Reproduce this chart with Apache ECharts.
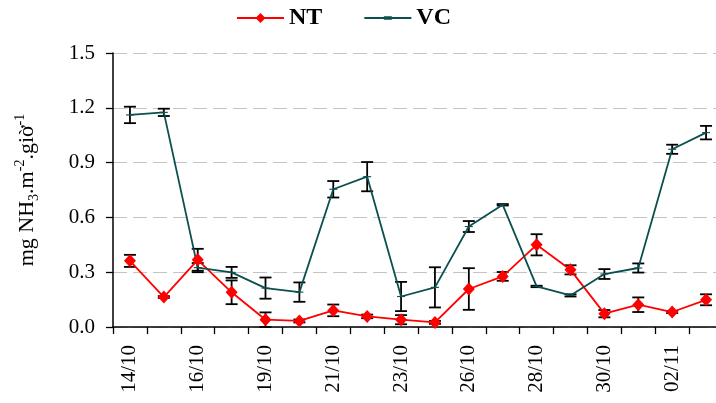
<!DOCTYPE html>
<html>
<head>
<meta charset="utf-8">
<script src="https://cdn.jsdelivr.net/npm/echarts@6/dist/echarts.min.js"></script>
<style>html,body{margin:0;padding:0;background:#fff;overflow:hidden}#c{width:723px;height:403px}</style>
</head>
<body>
<div id="c"></div>
<script>
const categories = ['14/10','15/10','16/10','18/10','19/10','20/10','21/10','22/10','23/10','25/10','26/10','27/10','28/10','29/10','30/10','01/11','02/11','03/11'];
const ntValues = [0.362,0.164,0.368,0.19,0.04,0.033,0.091,0.058,0.04,0.025,0.208,0.277,0.45,0.313,0.073,0.122,0.082,0.149];
const ntErrors = [0.033,0.005,0.06,0.065,0.04,0.008,0.032,0.01,0.025,0.008,0.114,0.024,0.058,0.025,0.02,0.04,0.006,0.03];
const vcValues = [1.161,1.175,0.325,0.299,0.213,0.191,0.754,0.823,0.167,0.217,0.55,0.669,0.222,0.173,0.29,0.323,0.973,1.064];
const vcErrors = [0.045,0.02,0.025,0.03,0.058,0.053,0.045,0.08,0.08,0.11,0.03,0.004,0.004,0.006,0.027,0.025,0.025,0.037];
const yTicks = [0, 0.3, 0.6, 0.9, 1.2, 1.5];

const serif = '"Liberation Serif","Times New Roman",serif';
const diamond = 'path://M0,6 L5,0 L10,6 L5,12 Z';
const dash = 'path://M0,0 L8,0 L8,3 L0,3 Z';
const ntLegendIcon = 'path://M0,5.1 L47,5.1 L47,6.9 L0,6.9 Z M23.5,1 L28.5,6 L23.5,11 L18.5,6 Z';
const vcLegendIcon = 'path://M0,4.6 L47,4.6 L47,6.4 L0,6.4 Z M19.5,3.8 L27.5,3.8 L27.5,7.2 L19.5,7.2 Z';

function errSeries(vals, errs) {
  return {
    type: 'custom',
    z: 2,
    silent: true,
    data: vals.map((v, i) => [i, v - errs[i], v + errs[i]]),
    renderItem: function (params, api) {
      const lo = api.coord([api.value(0), api.value(1)]);
      const hi = api.coord([api.value(0), api.value(2)]);
      const hw = 6;
      const st = { stroke: '#000', lineWidth: 1.8 };
      return {
        type: 'group',
        children: [
          { type: 'line', shape: { x1: lo[0], y1: lo[1], x2: hi[0], y2: hi[1] }, style: st },
          { type: 'line', shape: { x1: lo[0] - hw, y1: lo[1], x2: lo[0] + hw, y2: lo[1] }, style: st },
          { type: 'line', shape: { x1: hi[0] - hw, y1: hi[1], x2: hi[0] + hw, y2: hi[1] }, style: st }
        ]
      };
    }
  };
}

const chart = echarts.init(document.getElementById('c'), null, { renderer: 'canvas' });
chart.setOption({
  animation: false,
  backgroundColor: '#fff',
  legend: {
    top: 1,
    left: 232,
    itemWidth: 47,
    itemHeight: 12,
    itemGap: 42,
    textStyle: { fontFamily: serif, fontWeight: 'bold', fontSize: 24, color: '#000' },
    data: [
      { name: 'NT', icon: ntLegendIcon },
      { name: 'VC', icon: vcLegendIcon }
    ]
  },
  grid: { left: 113, top: 53, bottom: 76, right: 0 },
  xAxis: {
    type: 'category',
    data: categories,
    boundaryGap: true,
    axisLine: { lineStyle: { color: '#000', width: 1.5 } },
    axisTick: { show: true, interval: 0, length: 7, lineStyle: { color: '#000', width: 1.3 } },
    axisLabel: { interval: 1, rotate: 90, margin: 18, fontFamily: serif, fontSize: 21, color: '#000' },
    splitLine: { show: false }
  },
  yAxis: {
    type: 'value',
    min: yTicks[0],
    max: yTicks[yTicks.length - 1],
    interval: 0.3,
    axisLine: { show: true, lineStyle: { color: '#000', width: 1.5 } },
    axisTick: { show: true, length: 7, lineStyle: { color: '#000', width: 1.3 } },
    axisLabel: { margin: 18, fontFamily: serif, fontSize: 21, color: '#000', formatter: v => v.toFixed(1) },
    splitLine: { show: true, lineStyle: { color: '#c4c4c4', type: [14, 6], width: 1.2 } },
    name: '{n|mg NH}{s|3}{n|.m}{p|-2}{n|.giờ}{p|-1}',
    nameLocation: 'middle',
    nameGap: 72,
    nameRotate: 90,
    nameTextStyle: {
      fontFamily: serif, fontSize: 22, color: '#000',
      rich: {
        n: { fontFamily: serif, fontSize: 22, color: '#000', lineHeight: 28, verticalAlign: 'middle' },
        s: { fontFamily: serif, fontSize: 14, color: '#000', lineHeight: 28, verticalAlign: 'bottom' },
        p: { fontFamily: serif, fontSize: 14, color: '#000', lineHeight: 28, verticalAlign: 'top' }
      }
    }
  },
  series: [
    {
      name: 'NT',
      type: 'line',
      data: ntValues,
      z: 3,
      symbol: diamond,
      symbolSize: [12, 13],
      itemStyle: { color: '#ff0000' },
      lineStyle: { color: '#ff0000', width: 1.8 }
    },
    {
      name: 'VC',
      type: 'line',
      data: vcValues,
      z: 3,
      symbol: dash,
      symbolSize: [8, 3],
      symbolKeepAspect: true,
      itemStyle: { color: '#0b4f4f' },
      lineStyle: { color: '#0b4f4f', width: 1.8 }
    },
    errSeries(ntValues, ntErrors),
    errSeries(vcValues, vcErrors)
  ]
});
</script>
</body>
</html>
